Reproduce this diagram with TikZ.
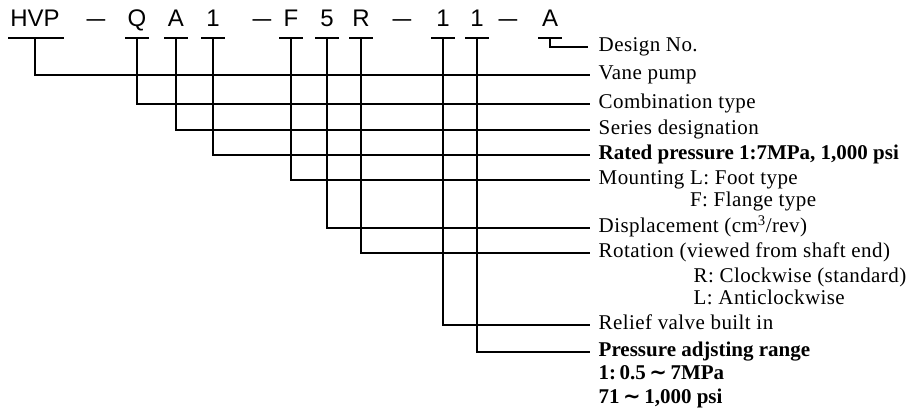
\documentclass[tikz,border=0pt]{standalone}
\usepackage{graphicx}
\usepackage{fontspec}
\setmainfont{Liberation Serif}[LetterSpace=2,BoldFeatures={LetterSpace=0}]
\newfontfamily\codefont{Liberation Sans}
\newfontfamily\tildefont{DejaVu Sans}
\newcommand{\wave}{\,{\tildefont ∼}\,}
\begin{document}
\begin{tikzpicture}[x=1pt,y=-1pt, line width=1.4pt,
  code/.style={font=\codefont\fontsize{24}{24}\selectfont, anchor=base, inner sep=0pt},
  dashc/.style={code, font=\codefont\fontsize{24}{24}\selectfont},
  lab/.style={font=\fontsize{21}{22}\selectfont, anchor=west, inner xsep=8pt, inner ysep=0pt, text height=14pt, text depth=4pt},
  boldlab/.style={lab, font=\bfseries\fontsize{21}{22}\selectfont},
  sub/.style={lab, inner xsep=0pt, text height=12pt, text depth=2pt},
  boldblock/.style={font=\bfseries\fontsize{21}{24}\selectfont, anchor=north west, inner sep=0pt, align=left}]
\useasboundingbox (0,0) rectangle (906,414);
% code characters
\node[code] (hvp) at (35,27) {HVP};
\node[dashc] (d1) at (96,27) {\scalebox{0.78}[1]{—}};
\node[code] (q) at (137,27) {Q};
\node[code] (a) at (176,27) {A};
\node[code] (one) at (213,27) {1};
\node[dashc] (d2) at (262,27) {\scalebox{0.78}[1]{—}};
\node[code] (f) at (291,27) {F};
\node[code] (five) at (327,27) {5};
\node[code] (r) at (361,27) {R};
\node[dashc] (d3) at (402,27) {\scalebox{0.78}[1]{—}};
\node[code] (pa) at (443,27) {1};
\node[code] (pb) at (477,27) {1};
\node[dashc] (d4) at (508,27) {\scalebox{0.78}[1]{—}};
\node[code] (dn) at (550,27) {A};
% underline centres
\foreach \n in {hvp,q,a,one,f,five,r,pa,pb,dn}{\coordinate (u\n) at (\n.base |- 0,38);}
\draw ([xshift=-27pt]uhvp) -- ([xshift=29pt]uhvp);
\foreach \n in {q,a,one,f,five,r,pa,pb,dn}{\draw ([xshift=-12pt]u\n) -- ([xshift=12pt]u\n);}
% labels
\node[lab] (design) at (590,47) {Design No.};
\node[lab] (vane) at (590,75) {Vane pump};
\node[lab] (comb) at (590,104) {Combination type};
\node[lab] (series) at (590,130) {Series designation};
\node[boldlab] (rated) at (590,155) {Rated pressure 1:7MPa, 1,000 psi};
\node[lab] (mount) at (590,180) {Mounting L: Foot type};
\node[sub] (mountf) at (598,202) {\hphantom{Mounting }F: Flange type};
\node[lab] (disp) at (590,228) {Displacement (cm\textsuperscript{3}/rev)};
\node[lab] (rot) at (590,253) {Rotation (viewed from shaft end)};
\node[sub] (rotr) at (693,278) {R: Clockwise (standard)};
\node[sub] (rotl) at (693,300) {L: Anticlockwise};
\node[lab] (relief) at (590,325) {Relief valve built in};
\node[boldlab] (press) at (590,352) {Pressure adjsting range};
\node[boldblock] (pressrange) at (598,365) {1:\,0.5\wave 7MPa\\71\wave 1,000 psi};
% connectors
\draw ([yshift=-9pt]udn) -- (udn);
\draw (udn) |- ([xshift=-2pt]design.west);
\draw (uhvp) |- (vane.west);
\draw (uq) |- (comb.west);
\draw (ua) |- (series.west);
\draw (uone) |- (rated.west);
\draw (uf) |- (mount.west);
\draw (ufive) |- (disp.west);
\draw (ur) |- (rot.west);
\draw (upa) |- (relief.west);
\draw (upb) |- (press.west);
\end{tikzpicture}
\end{document}
